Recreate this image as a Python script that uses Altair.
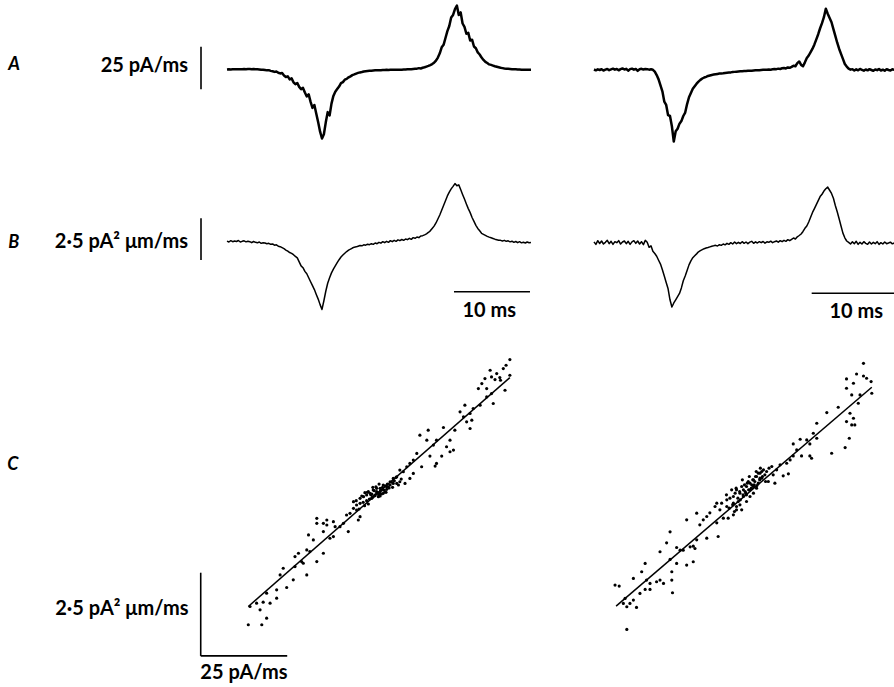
import altair as alt
import numpy as np
import pandas as pd

# ---------------- data ----------------
DT_MS = 0.25  # sampling interval of the traces (ms)

# A: dI/dt traces (pA/ms), left and right cell
A_LEFT = [0.0, 0.1, 0.0, 0.1, 0.1, 0.2, 0.1, 0.2, 0.2, 0.3, 0.2, 0.3, 0.3, 0.2, 0.3, 0.2,
          0.1, 0.0, -0.2, -0.1, -0.3, -0.5, -0.4, -0.8, -1.0, -1.4, -1.2, -1.9,
          -2.3, -2.0, -3.5, -4.4, -4.0, -5.8, -5.2, -7.5, -8.6, -7.9, -10.2, -11.5,
          -10.8, -13.5, -15.8, -14.6, -19.0, -22.5, -20.8, -26.0, -31.0, -36.5, -40.5, -38.0,
          -31.0, -25.0, -27.0, -20.0, -15.5, -13.0, -11.5, -10.0, -8.0, -7.4, -6.0, -5.5,
          -4.6, -4.0, -3.3, -2.9, -2.4, -2.0, -1.7, -1.5, -1.2, -1.0, -0.9, -0.8,
          -0.7, -0.6, -0.5, -0.5, -0.4, -0.4, -0.3, -0.3, -0.2, -0.3, -0.2, -0.2,
          -0.1, -0.2, -0.1, -0.1, -0.1, 0.0, 0.0, 0.1, 0.1, 0.2, 0.3, 0.4,
          0.5, 0.8, 0.6, 1.0, 1.3, 1.7, 2.1, 2.6, 3.2, 4.0, 5.2, 7.0,
          9.5, 13.0, 14.5, 18.5, 22.5, 25.5, 30.5, 32.0, 35.5, 37.5, 32.0, 33.5,
          27.0, 25.0, 21.0, 21.5, 17.0, 17.5, 13.5, 12.5, 10.0, 8.8, 7.0, 5.6,
          4.5, 3.8, 3.0, 2.7, 2.3, 1.9, 1.6, 1.3, 1.0, 0.8, 0.6, 0.5,
          0.4, 0.3, 0.2, 0.1, 0.1, 0.0, 0.0, -0.1, -0.1, -0.1, -0.2, -0.2, -0.2]
A_RIGHT = [0.3, -0.2, 0.4, 0.0, 0.5, -0.3, 0.2, 0.6, -0.1, 0.4, 0.8, 0.2, 0.6, -0.2, 0.5, 0.9,
           0.3, 0.7, -0.4, 0.5, 0.8, 0.2, 0.6, -0.5, 0.4, 0.7, 0.3, 0.6, 0.5, 0.2, 0.4, 0.1,
           -1.0, -3.0, -5.5, -9.0, -12.5, -18.5, -20.5, -26.5, -27.0, -33.0, -42.0, -36.0,
           -34.5, -31.5, -30.0, -27.0, -25.0, -20.0, -16.0, -13.5, -11.0, -9.5, -8.0, -6.8,
           -5.8, -5.0, -4.4, -4.0, -3.5, -3.2, -2.9, -2.7, -2.5, -2.3, -2.1, -2.0,
           -1.9, -1.7, -1.6, -1.5, -1.4, -1.2, -1.1, -1.0, -0.9, -0.8, -0.7, -0.6,
           -0.6, -0.5, -0.4, -0.4, -0.3, -0.2, -0.2, -0.1, 0.0, 0.1, 0.1, 0.2,
           0.3, 0.2, 0.4, 0.6, 0.5, 0.8, 0.6, 1.0, 1.2, 0.9, 1.5, 1.3,
           1.8, 2.5, 2.2, 4.0, 5.0, 3.0, 2.2, 4.5, 7.0, 8.5, 10.5, 12.5,
           15.0, 18.0, 21.0, 24.5, 27.5, 31.0, 36.0, 33.0, 30.5, 28.0, 24.0, 20.0,
           16.0, 12.5, 9.5, 6.5, 3.5, 2.0, 0.8, 0.2, 0.5, -0.3, 0.4, -0.2,
           0.6, 0.1, -0.4, 0.3, -0.2, 0.5, 0.0, -0.5, 0.3, -0.1, 0.6, -0.3,
           0.2, -0.4, 0.5, 0.0, -0.3, 0.4, 0.1]

# B: second quantity (pA^2 um/ms), left and right cell
B_LEFT = [0.05, 0.0, 0.08, 0.02, 0.06, 0.03, 0.09, 0.0, 0.04, 0.07, 0.01, 0.05,
          0.02, -0.04, 0.03, -0.02, -0.05, 0.0, -0.08, -0.04, -0.06, -0.1, -0.08, -0.14,
          -0.12, -0.19, -0.17, -0.25, -0.28, -0.34, -0.4, -0.48, -0.55, -0.63, -0.68, -0.76,
          -0.86, -0.95, -1.19, -1.43, -1.54, -1.76, -1.9, -2.14, -2.38, -2.61, -2.85, -3.14,
          -3.42, -3.75, -4.04, -3.52, -2.95, -2.47, -2.14, -1.85, -1.62, -1.43, -1.24, -1.06,
          -0.9, -0.78, -0.67, -0.57, -0.49, -0.43, -0.36, -0.31, -0.29, -0.25, -0.21, -0.23,
          -0.17, -0.19, -0.13, -0.16, -0.1, -0.14, -0.06, -0.1, -0.02, -0.07, 0.02, -0.04,
          0.04, -0.02, 0.08, 0.02, 0.1, 0.04, 0.13, 0.08, 0.15, 0.1, 0.18, 0.14,
          0.22, 0.16, 0.26, 0.22, 0.3, 0.26, 0.36, 0.38, 0.43, 0.49, 0.57, 0.67,
          0.81, 0.95, 1.14, 1.38, 1.62, 1.9, 2.19, 2.47, 2.76, 2.99, 3.18, 3.33,
          3.5, 3.37, 3.42, 3.14, 2.85, 2.57, 2.28, 2.0, 1.76, 1.47, 1.24, 1.0,
          0.81, 0.67, 0.52, 0.46, 0.4, 0.34, 0.29, 0.25, 0.21, 0.17, 0.14, 0.11,
          0.1, 0.06, 0.1, 0.04, 0.07, 0.01, 0.05, -0.02, 0.03, -0.04, 0.02, -0.05,
          -0.01, -0.06, 0.0, -0.04, -0.03]
B_RIGHT = [0.05, -0.1, 0.12, -0.05, 0.1, -0.08, 0.02, 0.14, -0.06, 0.08, -0.1, 0.06,
           0.0, 0.12, -0.08, 0.04, 0.1, -0.06, 0.08, -0.1, 0.05, 0.12, -0.04, 0.1,
           -0.08, 0.06, -0.12, 0.14, 0.02, -0.28, -0.19, -0.52, -0.65, -0.81, -1.05, -1.28,
           -1.62, -2.0, -2.38, -2.76, -3.42, -3.85, -3.61, -3.42, -3.23, -3.04, -2.71, -2.28,
           -2.0, -1.66, -1.33, -1.09, -0.9, -0.78, -0.67, -0.55, -0.48, -0.42, -0.36, -0.32,
           -0.29, -0.25, -0.21, -0.19, -0.16, -0.2, -0.12, -0.16, -0.08, -0.13, -0.04, -0.1,
           0.0, -0.08, 0.04, -0.06, 0.02, -0.05, 0.06, -0.04, 0.04, -0.06, 0.03, 0.08,
           -0.04, 0.05, -0.02, 0.06, 0.0, 0.07, -0.03, 0.05, 0.02, 0.09, 0.0, 0.06,
           0.1, 0.03, 0.12, 0.06, 0.14, 0.08, 0.18, 0.12, 0.2, 0.28, 0.22, 0.35,
           0.43, 0.52, 0.67, 0.86, 1.0, 1.24, 1.52, 1.81, 2.04, 2.28, 2.52, 2.76,
           2.9, 3.09, 3.23, 3.33, 3.14, 2.95, 2.66, 2.23, 1.85, 1.43, 1.0, 0.57,
           0.29, 0.1, 0.02, -0.08, 0.05, -0.06, 0.08, -0.1, 0.02, -0.08, 0.06, -0.04,
           -0.1, 0.04, -0.08, 0.02, -0.06, 0.06, -0.1, 0.0, -0.08, 0.04, -0.06, -0.02,
           0.03, -0.07, -0.02]

# C: scatter of B (pA^2 um/ms) against A (pA/ms), left cell
C_LEFT_X = [38.4, 37.3, 36.5, 34.6, 35.5, 38.4, 32.7, 33.1, 31.2, 34.1, 35.7, 30.3, 29.3, 31.7,
            37.0, 33.1, 31.7, 33.6, 29.8, 27.8, 25.4, 24.0, 26.9, 25.0, 25.9, 27.4, 26.9, 22.5,
            19.2, 14.8, 12.4, 14.4, 21.1, 17.2, 20.1, 16.3, 22.1, 21.1, 18.7, 15.3, 17.2, 16.8,
            12.9, 11.5, 10.5, 9.5, 8.6, 7.6, 6.6, 10.5, 9.5, 5.7, 4.7, 6.6, 8.1, 5.7, 3.8, 2.8,
            1.8, 0.9, -0.1, -1.1, -2.0, -3.0, -1.5, 0.4, 0.9, 2.3, -0.6, -3.9, -4.9, -4.9, -5.9,
            -6.8, -7.8, -8.8, -5.9, -4.9, -6.8, -5.4, -8.3, -9.7, -10.7, -12.6, -12.1, -14.5,
            -15.5, -14.5, -17.4, -15.5, -12.6, -13.6, -17.4, -18.4, -19.8, -19.4, -20.3, -22.7,
            -23.7, -21.8, -21.3, -15.5, -17.4, -27.1, -28.0, -23.7, -20.3, -24.2, -26.1, -29.0,
            -31.9, -32.9, -30.9, -34.8, -33.8, -36.7, -29.0, -31.9, -37.2, -33.3,
            -2.5, -1.5, -0.1, 1.3, 2.8, 3.8, -4.4, -3.5, -1.1, 0.9, 1.8, 3.3, 4.7, 6.2, -0.1,
            -3.0, -2.2, -1.4, -0.6, 0.2, 1.0, 1.6, 2.4, 3.0, -2.8, -1.8, -0.8, 0.5, 1.3, 2.0,
            3.5, 4.2, 5.0, -4.0, -3.6, -0.3, 0.6, -1.2, 2.6, 4.5, 5.5, 7.0, -5.2, -6.0, -2.5]
C_LEFT_Y = [4.04, 3.87, 3.77, 3.62, 3.50, 3.57, 3.72, 3.52, 3.47, 3.44, 3.42, 3.32, 3.17, 3.17,
            3.12, 3.02, 2.92, 2.72, 2.67, 2.57, 2.67, 2.47, 2.42, 2.32, 2.17, 2.22, 1.97, 1.92,
            2.00, 1.92, 1.77, 1.62, 1.62, 1.62, 1.42, 1.47, 1.32, 1.27, 1.14, 1.14, 0.92, 0.84,
            0.82, 1.22, 1.02, 0.92, 0.82, 0.67, 0.72, 0.62, 0.47, 0.52, 0.47, 0.37, 0.32, 0.32,
            0.37, 0.22, 0.27, 0.17, 0.07, 0.12, 0.02, -0.03, -0.13, -0.08, 0.02, 0.07, -0.03,
            -0.08, -0.13, -0.28, -0.33, -0.43, -0.58, -0.63, -0.48, -0.68, -0.23, -0.78, -1.13,
            -0.88, -0.98, -0.83, -0.98, -0.93, -1.13, -0.78, -0.73, -0.88, -1.28, -1.33, -0.88,
            -1.38, -1.23, -1.73, -1.68, -1.78, -1.88, -2.03, -2.08, -1.78, -2.03, -2.23, -2.43,
            -2.18, -2.43, -2.58, -2.81, -2.88, -2.98, -3.25, -3.28, -3.28, -3.48, -3.38, -3.13,
            -3.73, -3.93, -3.93,
            0.07, 0.0, 0.02, 0.12, 0.14, 0.27, -0.06, 0.04, -0.08, -0.06, 0.02, 0.22, 0.32, 0.27, 0.17,
            -0.2, -0.15, -0.1, -0.05, 0.05, 0.1, 0.2, 0.25, 0.3, 0.05, -0.02, 0.1, -0.02, 0.0, 0.12,
            0.18, 0.36, 0.4, -0.25, -0.35, 0.22, 0.3, 0.2, 0.05, 0.2, 0.5, 0.45, -0.45, -0.2, -0.3]

# C: right cell
C_RIGHT_X = [32.8, 30.8, 27.9, 32.8, 33.7, 35.0, 29.9, 27.9, 29.4, 31.8, 35.2, 31.3, 25.5, 22.2,
             28.9, 27.9, 30.3, 29.4, 29.9, 19.3, 18.3, 19.3, 14.5, 16.4, 12.5, 17.3, 13.5, 12.5,
             14.9, 17.3, 17.8, 23.6, 27.5, 28.7, 11.6, 10.6, 8.7, 7.7, 6.3, 4.8, 3.9, 2.9, 6.7,
             9.6, 11.1, 7.2, 5.3, 3.4, 1.9, 1.0, 0.0, -1.0, -1.9, -2.9, -3.9, -4.8, -5.8, -6.7,
             -4.8, -3.4, -1.9, 1.0, 1.9, -1.0, -2.9, -2.4, -3.9, -6.7, -8.2, -9.6, -10.1, -11.6,
             -8.7, -7.7, -6.3, -4.8, -3.9, -9.6, -12.5, -15.4, -13.5, -18.3, -14.5, -9.2, -12.5,
             -15.4, -16.4, -17.3, -15.9, -20.2, -21.2, -19.3, -24.1, -26.0, -23.1, -23.1, -16.4,
             -18.3, -21.2, -22.6, -26.0, -25.0, -27.0, -28.9, -30.3, -28.9, -31.8, -29.9, -33.7,
             -31.3, -30.3, -22.6, -22.4, -36.1, -36.6, -34.7, -35.6, -32.8, -33.7, -39.0, -37.8,
             -35.6,
             -0.5, 0.5, 1.4, -1.4, -2.4, 0.0, 2.4, 2.9, -4.3, -5.3, 3.4, 4.3,
             -3.5, -2.8, -2.0, -1.2, -0.4, 0.4, 1.2, 2.0, 2.8, 3.6, -4.0, -3.0, -1.6, -0.8, 0.8,
             1.6, 2.4, -5.0, -6.0, -4.5, -1.0, 0.0, 1.0, 4.5, 5.5, -2.2, -6.8, 3.0, -0.2, 1.8]
C_RIGHT_Y = [3.85, 3.53, 3.38, 3.47, 3.40, 3.30, 3.25, 3.10, 2.90, 2.90, 2.95, 2.65, 2.53, 2.37,
             2.35, 2.10, 2.00, 2.00, 2.20, 2.05, 1.75, 1.60, 1.57, 1.55, 1.43, 1.43, 1.25, 1.07,
             1.07, 1.07, 1.00, 1.15, 1.32, 1.60, 0.95, 0.85, 0.80, 0.65, 0.75, 0.60, 0.65, 0.55,
             0.50, 0.47, 0.53, 0.25, 0.30, 0.40, 0.45, 0.35, 0.25, 0.15, 0.05, -0.05, 0.05,
             -0.15, -0.20, -0.25, -0.35, -0.30, -0.15, 0.15, 0.10, -0.10, -0.40, -0.55, -0.45,
             -0.45, -0.35, -0.35, -0.45, -0.64, -0.55, -0.80, -0.80, -0.70, -0.55, -0.94, -0.75,
             -0.65, -0.85, -0.85, -1.00, -1.35, -1.40, -1.45, -1.64, -1.66, -1.71, -1.76, -1.68,
             -1.76, -1.54, -1.81, -1.21, -2.04, -2.11, -2.21, -2.16, -2.41, -2.66, -2.76, -2.71,
             -2.76, -2.94, -2.94, -3.06, -2.66, -2.61, -2.41, -2.16, -2.66, -3.04, -3.21, -3.36,
             -3.36, -3.46, -3.48, -3.26, -2.81, -2.84, -4.14,
             0.30, 0.20, 0.30, 0.00, 0.15, 0.05, 0.25, 0.40, -0.05, 0.05, 0.60, 0.50,
             -0.2, -0.25, -0.1, -0.05, 0.05, 0.1, 0.2, 0.18, 0.35, 0.45, 0.1, 0.0, 0.2, 0.25, 0.35,
             0.45, 0.55, -0.4, -0.5, -0.6, -0.3, -0.15, -0.05, 0.3, 0.7, 0.35, -0.1, 0.7, 0.45, 0.6]

# C: fitted regression lines (x in pA/ms, y in pA^2 um/ms)
FIT_LEFT_X = [-37.2, 38.4]
FIT_LEFT_Y = [-3.38, 3.50]
FIT_RIGHT_X = [-38.7, 35.2]
FIT_RIGHT_Y = [-3.44, 3.13]

# scale bars
CURRENT_BAR = 25.0   # pA/ms
FLUX_BAR = 2.5       # pA^2 um/ms
TIME_BAR = 10.0      # ms

CURRENT_LABEL = "25 pA/ms"
FLUX_LABEL = "2·5 pA²  μm/ms"
TIME_LABEL = "10 ms"
PANEL_LETTERS = ["A", "B", "C"]

# ---------------- layout (scale domains per panel) ----------------
LEFT_W, RIGHT_W = 560, 334
ROW_H = [150, 180, 357]

A_L_X, A_L_Y = [-29.87, 43.82], [-47.24, 40.79]
A_R_X, A_R_Y = [-4.47, 39.47], [-46.95, 41.08]
B_L_X, B_L_Y = A_L_X, [-5.27, 5.51]
B_R_X, B_R_Y = A_R_X, [-5.23, 5.55]
C_L_X, C_L_Y = [-108.96, 52.89], [-5.80, 4.93]
C_R_X, C_R_Y = [-54.91, 41.62], [-5.87, 4.85]

FONT = "Lato"
INK = "black"


def sc(domain):
    return alt.Scale(domain=domain, nice=False, zero=False)


def trace(values, xd, yd, width):
    df = pd.DataFrame({"t": np.arange(len(values)) * DT_MS, "v": values})
    return alt.Chart(df).mark_line(color=INK, strokeWidth=width, clip=True,
                                   strokeJoin="round").encode(
        x=alt.X("t:Q", scale=sc(xd), axis=None),
        y=alt.Y("v:Q", scale=sc(yd), axis=None))


def bars(rows, xd, yd):
    df = pd.DataFrame(rows, columns=["x", "x2", "y", "y2"])
    return alt.Chart(df).mark_rule(color=INK, strokeWidth=1.6, clip=True).encode(
        x=alt.X("x:Q", scale=sc(xd), axis=None), x2="x2:Q",
        y=alt.Y("y:Q", scale=sc(yd), axis=None), y2="y2:Q")


def text(rows, xd, yd, align, size=20, style="normal", weight="bold"):
    df = pd.DataFrame(rows, columns=["x", "y", "label"])
    return alt.Chart(df).mark_text(align=align, baseline="alphabetic", font=FONT,
                                   fontSize=size, fontStyle=style, fontWeight=weight,
                                   color=INK).encode(
        x=alt.X("x:Q", scale=sc(xd), axis=None),
        y=alt.Y("y:Q", scale=sc(yd), axis=None),
        text="label:N")


def scatter(xv, yv, xd, yd):
    df = pd.DataFrame({"x": xv, "y": yv})
    return alt.Chart(df).mark_circle(color=INK, size=10, opacity=1).encode(
        x=alt.X("x:Q", scale=sc(xd), axis=None),
        y=alt.Y("y:Q", scale=sc(yd), axis=None))


def fit(xs, ys, xd, yd):
    df = pd.DataFrame({"x": xs, "y": ys})
    return alt.Chart(df).mark_line(color=INK, strokeWidth=1.5).encode(
        x=alt.X("x:Q", scale=sc(xd), axis=None),
        y=alt.Y("y:Q", scale=sc(yd), axis=None))


# ---- Row A ----
a_left = alt.layer(
    trace(A_LEFT, A_L_X, A_L_Y, 2.5),
    bars([[-3.42, -3.42, 13.38, 13.38 - CURRENT_BAR]], A_L_X, A_L_Y),
    text([[-5.13, -1.29, CURRENT_LABEL]], A_L_X, A_L_Y, "right"),
    text([[-28.78, -0.3, PANEL_LETTERS[0]]], A_L_X, A_L_Y, "left", size=18, style="italic"),
).properties(width=LEFT_W, height=ROW_H[0])
a_right = alt.layer(
    trace(A_RIGHT, A_R_X, A_R_Y, 2.5),
).properties(width=RIGHT_W, height=ROW_H[0])

# ---- Row B ----
b_left = alt.layer(
    trace(B_LEFT, B_L_X, B_L_Y, 1.5),
    bars([[-3.42, -3.42, 1.42, 1.42 - FLUX_BAR],
          [29.87, 29.87 + TIME_BAR, -2.98, -2.98]], B_L_X, B_L_Y),
    text([[-5.13, -0.36, FLUX_LABEL]], B_L_X, B_L_Y, "right"),
    text([[34.5, -4.49, TIME_LABEL]], B_L_X, B_L_Y, "center"),
    text([[-28.78, -0.36, PANEL_LETTERS[1]]], B_L_X, B_L_Y, "left", size=18, style="italic"),
).properties(width=LEFT_W, height=ROW_H[1])
b_right = alt.layer(
    trace(B_RIGHT, B_R_X, B_R_Y, 1.5),
    bars([[28.64, B_R_X[1], -3.03, -3.03]], B_R_X, B_R_Y),
    text([[34.5, -4.53, TIME_LABEL]], B_R_X, B_R_Y, "center"),
).properties(width=RIGHT_W, height=ROW_H[1])

# ---- Row C ----
c_left = alt.layer(
    scatter(C_LEFT_X, C_LEFT_Y, C_L_X, C_L_Y),
    fit(FIT_LEFT_X, FIT_LEFT_Y, C_L_X, C_L_Y),
    bars([[-50.95, -50.95, -4.865 + FLUX_BAR, -4.865],
          [-50.95, -50.95 + CURRENT_BAR, -4.865, -4.865]], C_L_X, C_L_Y),
    text([[-38.44, -5.556, CURRENT_LABEL]], C_L_X, C_L_Y, "center"),
    text([[-54.5, -3.63, FLUX_LABEL]], C_L_X, C_L_Y, "right"),
    text([[-106.9, 0.72, PANEL_LETTERS[2]]], C_L_X, C_L_Y, "left", size=18, style="italic"),
).properties(width=LEFT_W, height=ROW_H[2])
c_right = alt.layer(
    scatter(C_RIGHT_X, C_RIGHT_Y, C_R_X, C_R_Y),
    fit(FIT_RIGHT_X, FIT_RIGHT_Y, C_R_X, C_R_Y),
).properties(width=RIGHT_W, height=ROW_H[2])

row_a = alt.hconcat(a_left, a_right, spacing=0)
row_b = alt.hconcat(b_left, b_right, spacing=0)
row_c = alt.hconcat(c_left, c_right, spacing=0)

chart = alt.vconcat(row_a, row_b, row_c, spacing=0).properties(
    padding=0, background="white"
).configure_view(stroke=None)

chart.save("out.html", embed_options={"renderer": "svg", "actions": False})
